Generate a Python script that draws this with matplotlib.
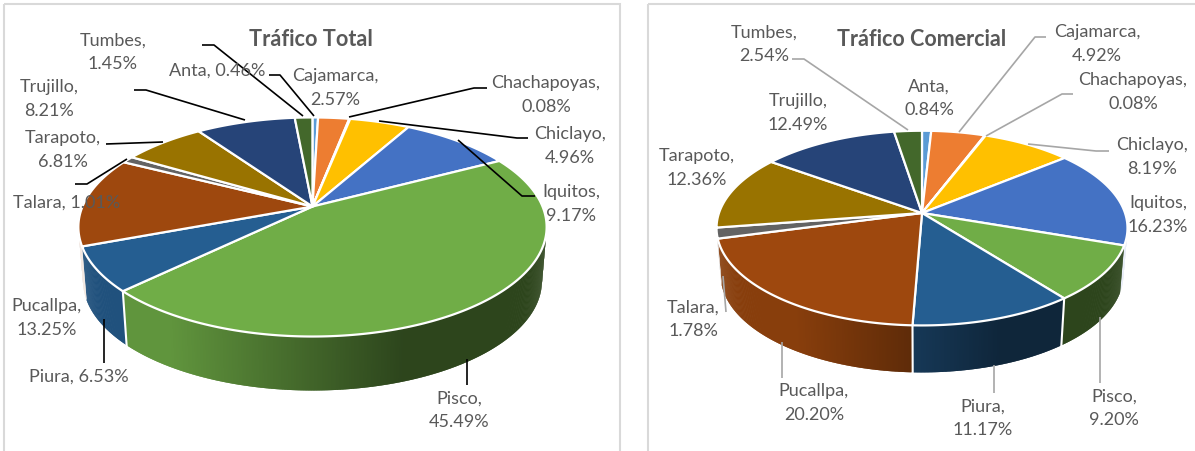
"""
Recrea los dos gráficos de torta 3D de tráfico (total y comercial).
"""
import numpy as np
import matplotlib
matplotlib.use("Agg")
import matplotlib.pyplot as plt
from matplotlib.patches import Polygon, Rectangle
from matplotlib.collections import PolyCollection

plt.rcParams['font.family'] = ['Lato', 'DejaVu Sans']

ciudades = ["Anta", "Cajamarca", "Chachapoyas", "Chiclayo", "Iquitos", "Pisco",
            "Piura", "Pucallpa", "Talara", "Tarapoto", "Trujillo", "Tumbes"]
trafico_total = [0.46, 2.57, 0.08, 4.96, 9.17, 45.49, 6.53, 13.25, 1.01, 6.81, 8.21, 1.45]
trafico_comercial = [0.84, 4.92, 0.08, 8.19, 16.23, 9.20, 11.17, 20.20, 1.78, 12.36, 12.49, 2.54]
colores = ["#5B9BD5", "#ED7D31", "#A5A5A5", "#FFC000", "#4472C4", "#70AD47",
           "#255E91", "#9E480E", "#636363", "#997300", "#264478", "#43682B"]

# Posición de cada etiqueta (centro en píxeles) y si va en una o dos líneas
etiquetas_total = {
    "Anta": (217, 71, 1), "Cajamarca": (335, 88, 2), "Chachapoyas": (546, 95, 2),
    "Chiclayo": (570, 146, 2), "Iquitos": (571, 204, 2), "Pisco": (459, 410, 2),
    "Piura": (79, 377, 1), "Pucallpa": (47, 318, 2), "Talara": (67, 203, 1),
    "Tarapoto": (63, 150, 2), "Trujillo": (49, 99, 2), "Tumbes": (113, 52, 2),
}
etiquetas_comercial = {
    "Anta": (929, 98, 2), "Cajamarca": (1097, 44, 2), "Chachapoyas": (1133, 92, 2),
    "Chiclayo": (1152, 157, 2), "Iquitos": (1158, 215, 2), "Pisco": (1114, 408, 2),
    "Piura": (983, 418, 2), "Pucallpa": (814, 403, 2), "Talara": (693, 319, 2),
    "Tarapoto": (697, 168, 2), "Trujillo": (798, 113, 2), "Tumbes": (764, 44, 2),
}

# Líneas guía de las etiquetas
guias_total = [
    [(202, 46), (214, 46), (303, 117)],
    [(269, 76), (280, 76), (314, 117)],
    [(134, 91), (146, 91), (245, 121)],
    [(106, 145), (163, 143)],
    [(75, 185), (87, 185), (127, 160)],
    [(487, 89), (474, 89), (349, 118)],
    [(528, 139), (517, 139), (379, 122)],
    [(535, 197), (522, 197), (458, 141)],
    [(467, 386), (467, 360)],
    [(104, 364), (104, 320)],
]
guias_comercial = [
    [(792, 60), (804, 60), (908, 131)],
    [(1046, 38), (1035, 38), (959, 133)],
    [(1073, 95), (1062, 95), (986, 137)],
    [(1109, 152), (1096, 152), (1028, 145)],
    [(726, 313), (723, 277)],
    [(782, 379), (782, 343)],
    [(994, 394), (994, 366)],
    [(1100, 384), (1100, 318)],
]

ESTRECHA = 0.98  # la base de la pared se ve algo más angosta


def proyectar(theta, cx, cy, a, b, p):
    """Pasa un ángulo (desde arriba, horario) a píxeles con perspectiva."""
    x = np.sin(theta)
    y = np.cos(theta)
    w = 1 + p * y
    return cx + a * x / w, cy - b * y / w


def torta_3d(ax, valores, cx, cy, a, b, p, alto):
    limites = np.radians(np.cumsum([0] + list(valores)) * 3.6)
    # La pared solo se ve entre el extremo derecho e izquierdo de la elipse
    ini = np.arccos(-p)
    fin = 2 * np.pi - ini

    for i in range(len(valores)):
        t0, t1 = max(limites[i], ini), min(limites[i + 1], fin)
        if t1 <= t0:
            continue
        base = np.array(matplotlib.colors.to_rgb(colores[i]))
        ts = np.linspace(t0, t1, max(3, int(np.degrees(t1 - t0) * 3)))
        quads, tonos = [], []
        for j in range(len(ts) - 1):
            # cada trozo pisa al siguiente para que no queden rayas
            t_a, t_b = ts[j], ts[min(j + 2, len(ts) - 1)]
            xa, ya = proyectar(t_a, cx, cy, a, b, p)
            xb, yb = proyectar(t_b, cx, cy, a, b, p)
            xa2 = cx + (xa - cx) * ESTRECHA
            xb2 = cx + (xb - cx) * ESTRECHA
            quads.append([(xa, ya), (xb, yb), (xb2, yb + alto), (xa2, ya + alto)])
            if np.degrees(t1 - t0) < 11:
                # en los extremos la pared casi no se distingue del fondo
                tonos.append(base * 0.12 + 0.88)
            else:
                pos = (xa - cx) / a
                tonos.append(base * np.clip(0.58 - 0.45 * pos, 0.40, 0.86))
        ax.add_collection(PolyCollection(quads, facecolors=tonos, edgecolors="none",
                                         zorder=2))

    # Separaciones blancas de la pared
    for lim in limites[:-1]:
        if ini + np.radians(11) < lim < fin - np.radians(11):
            x, y = proyectar(lim, cx, cy, a, b, p)
            ax.plot([x, cx + (x - cx) * ESTRECHA], [y, y + alto], color="white", lw=1.5, zorder=3)

    # Cara superior
    for i in range(len(valores)):
        ts = np.linspace(limites[i], limites[i + 1], max(3, int(valores[i] * 6)))
        xs, ys = proyectar(ts, cx, cy, a, b, p)
        puntos = [(cx, cy)] + list(zip(xs, ys))
        ax.add_patch(Polygon(puntos, closed=True, facecolor=colores[i],
                             edgecolor="white", lw=1.6, joinstyle="round", zorder=4))


def poner_etiquetas(ax, valores, etiquetas):
    for ciudad, valor in zip(ciudades, valores):
        x, y, lineas = etiquetas[ciudad]
        sep = "\n" if lineas == 2 else " "
        ax.text(x, y, f"{ciudad},{sep}{valor:.2f}%", ha="center", va="center",
                fontsize=13, color="#595959", linespacing=1.58, zorder=7)


def poner_guias(ax, guias, color, lw):
    for guia in guias:
        xs, ys = zip(*guia)
        ax.plot(xs, ys, color=color, lw=lw, solid_capstyle="butt", zorder=6)


fig = plt.figure(figsize=(11.95, 4.52), dpi=100)
ax = fig.add_axes([0, 0, 1, 1])
ax.set_xlim(0, 1195)
ax.set_ylim(452, 0)
ax.axis("off")

# Marcos de los dos gráficos
ax.add_patch(Rectangle((4, 5), 616, 460, fill=False, edgecolor="#D9D9D9", lw=1.5, zorder=1))
ax.add_patch(Rectangle((648, 5), 560, 460, fill=False, edgecolor="#D9D9D9", lw=1.5, zorder=1))

torta_3d(ax, trafico_total, 312.5, 207.5, 230, 105.7, 0.187, 54)
torta_3d(ax, trafico_comercial, 922, 214, 203, 95, 0.155, 47)

poner_guias(ax, guias_total, "black", 1.2)
poner_guias(ax, guias_comercial, "#A6A6A6", 1.2)

poner_etiquetas(ax, trafico_total, etiquetas_total)
poner_etiquetas(ax, trafico_comercial, etiquetas_comercial)

ax.text(311, 40, "Tráfico Total", ha="center", va="center", fontsize=15.6,
        fontweight="bold", color="#595959", zorder=7)
ax.text(922, 40, "Tráfico Comercial", ha="center", va="center", fontsize=15.5,
        fontweight="bold", color="#595959", zorder=7)

fig.savefig("out.png", dpi=100)
